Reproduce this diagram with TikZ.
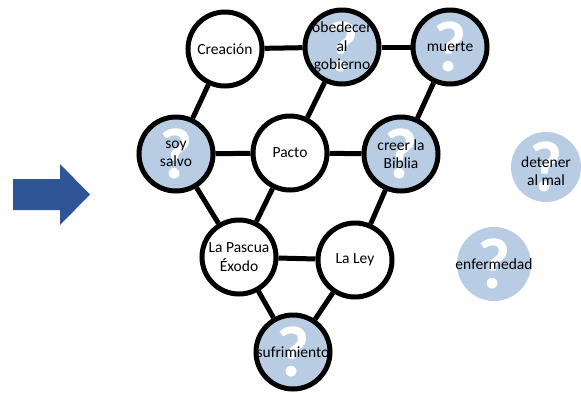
\documentclass[tikz,border=0pt]{standalone}
\usepackage{fontspec}
\setmainfont{Carlito}
\definecolor{qblue}{RGB}{184,204,228}
\definecolor{arrblue}{RGB}{47,85,151}
\begin{document}
\begin{tikzpicture}[x=1pt,y=-1pt,
  bub/.style={circle,minimum size=74pt,inner sep=0pt,line width=5pt,draw=black},
  plainbub/.style={bub,fill=white},
  qbub/.style={bub,fill=qblue},
  freebub/.style={circle,inner sep=0pt,fill=qblue,draw=none},
  qm/.style={anchor=base,inner sep=0pt,text=white,font=\fontsize{72}{72}\selectfont\bfseries},
  txt/.style={align=center,inner sep=0pt,font=\fontsize{15.5}{18.5}\selectfont},
  link/.style={line width=5pt}]
\useasboundingbox (0,0) rectangle (581,392);
% arrow
\fill[arrblue] (13,179) -- (60,179) -- (60,164) -- (90,194.5) -- (60,225) -- (60,210) -- (13,210) -- cycle;
% bubbles
\node[plainbub] (cre) at (225,49) {};
\node[qbub] (obe) at (342,47) {};
\node[qbub] (mue) at (450,47) {};
\node[qbub] (soy) at (176,154) {};
\node[plainbub] (pac) at (290,153) {};
\node[qbub] (bib) at (401,154) {};
\node[plainbub] (pas) at (239,257) {};
\node[plainbub] (ley) at (355,260) {};
\node[qbub] (suf) at (293,352) {};
\node[freebub,minimum size=70pt] (det) at (546,167) {};
\node[freebub,minimum size=74pt] (enf) at (494,264) {};
% question marks
\foreach \n in {obe,mue,soy,bib,suf,det,enf}
  \node[qm] at ([yshift=-24pt]\n.center) {?};
% texts
\node[txt] at (cre) {Creación};
\node[txt] at (obe) {obedecer\\al\\gobierno};
\node[txt] at (mue) {muerte};
\node[txt] at (soy) {soy\\salvo};
\node[txt] at (pac) {Pacto};
\node[txt] at (bib) {creer la\\Biblia};
\node[txt] at (pas) {La Pascua\\Éxodo};
\node[txt] at (ley) {La Ley};
\node[txt] at (suf) {sufrimiento};
\node[txt] at ([yshift=-4pt]det.center) {detener\\al mal};
\node[txt] at (enf) {enfermedad};
% connectors
\draw[link] (cre) -- (obe);
\draw[link] (obe) -- (mue);
\draw[link] (cre) -- (soy);
\draw[link] (obe) -- (pac);
\draw[link] (mue) -- (bib);
\draw[link] (soy) -- (pac);
\draw[link] (pac) -- (bib);
\draw[link] (soy) -- (pas);
\draw[link] (pac) -- (pas);
\draw[link] (bib) -- (ley);
\draw[link] (pas) -- (ley);
\draw[link] (pas) -- (suf);
\draw[link] (ley) -- (suf);
\end{tikzpicture}
\end{document}
